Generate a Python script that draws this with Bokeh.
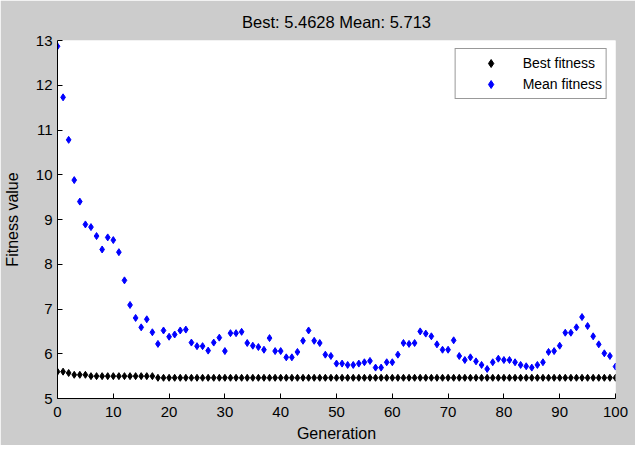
from bokeh.plotting import figure
from bokeh.models import Range1d, FixedTicker, ColumnDataSource
from bokeh.embed import file_html
from bokeh.resources import INLINE

generation = list(range(0, 101))

best_fitness = [
    5.60, 5.60, 5.57, 5.53, 5.53, 5.53, 5.50, 5.50, 5.50, 5.50,
    5.50, 5.50, 5.50, 5.50, 5.50, 5.50, 5.50, 5.50, 5.4628, 5.4628,
    5.4628, 5.4628, 5.4628, 5.4628, 5.4628, 5.4628, 5.4628, 5.4628, 5.4628, 5.4628,
    5.4628, 5.4628, 5.4628, 5.4628, 5.4628, 5.4628, 5.4628, 5.4628, 5.4628, 5.4628,
    5.4628, 5.4628, 5.4628, 5.4628, 5.4628, 5.4628, 5.4628, 5.4628, 5.4628, 5.4628,
    5.4628, 5.4628, 5.4628, 5.4628, 5.4628, 5.4628, 5.4628, 5.4628, 5.4628, 5.4628,
    5.4628, 5.4628, 5.4628, 5.4628, 5.4628, 5.4628, 5.4628, 5.4628, 5.4628, 5.4628,
    5.4628, 5.4628, 5.4628, 5.4628, 5.4628, 5.4628, 5.4628, 5.4628, 5.4628, 5.4628,
    5.4628, 5.4628, 5.4628, 5.4628, 5.4628, 5.4628, 5.4628, 5.4628, 5.4628, 5.4628,
    5.4628, 5.4628, 5.4628, 5.4628, 5.4628, 5.4628, 5.4628, 5.4628, 5.4628, 5.4628,
    5.4628,
]

mean_fitness = [
    12.87, 11.73, 10.78, 9.88, 9.40, 8.89, 8.83, 8.63, 8.33, 8.60,
    8.54, 8.27, 7.64, 7.09, 6.80, 6.59, 6.77, 6.48, 6.22, 6.52,
    6.38, 6.43, 6.52, 6.54, 6.25, 6.17, 6.17, 6.07, 6.25, 6.36,
    6.06, 6.46, 6.46, 6.49, 6.24, 6.18, 6.15, 6.09, 6.35, 6.06,
    6.06, 5.92, 5.92, 6.04, 6.29, 6.52, 6.29, 6.24, 5.98, 5.95,
    5.78, 5.78, 5.75, 5.75, 5.78, 5.81, 5.84, 5.69, 5.69, 5.81,
    5.81, 5.98, 6.24, 6.22, 6.24, 6.50, 6.45, 6.39, 6.21, 6.09,
    6.09, 6.30, 5.95, 5.86, 5.92, 5.83, 5.75, 5.66, 5.81, 5.89,
    5.86, 5.86, 5.81, 5.75, 5.72, 5.69, 5.75, 5.81, 6.04, 6.06,
    6.18, 6.47, 6.47, 6.59, 6.82, 6.62, 6.39, 6.21, 6.01, 5.95,
    5.713,
]

x_ticks = [0, 10, 20, 30, 40, 50, 60, 70, 80, 90, 100]
y_ticks = [5, 6, 7, 8, 9, 10, 11, 12, 13]

title_text = "Best: 5.4628 Mean: 5.713"
FONT = "Liberation Sans"

source = ColumnDataSource(dict(gen=generation, best=best_fitness, mean=mean_fitness))

p = figure(
    width=635, height=445,
    output_backend="svg", toolbar_location=None,
    x_range=Range1d(0, 100), y_range=Range1d(5, 13),
    min_border_left=56, min_border_right=20,
    min_border_top=40, min_border_bottom=47,
    background_fill_color="white", border_fill_color="#cccccc",
)
p.outline_line_color = None
p.grid.visible = False

p.title.text = title_text
p.title.align = "center"
p.title.text_font = FONT
p.title.text_font_size = "16.5px"
p.title.text_font_style = "normal"
p.title.text_color = "black"
p.title.standoff = 19

for ax in (p.xaxis[0], p.yaxis[0]):
    ax.axis_line_color = "black"
    ax.major_tick_line_color = "black"
    ax.major_tick_in = 5
    ax.major_tick_out = 0
    ax.minor_tick_line_color = None
    ax.major_label_text_font = FONT
    ax.major_label_text_font_size = "15px"
    ax.major_label_text_color = "black"
    ax.axis_label_text_font = FONT
    ax.axis_label_text_font_size = "16px"
    ax.axis_label_text_font_style = "normal"
    ax.axis_label_text_color = "black"

p.xaxis.ticker = FixedTicker(ticks=x_ticks)
p.yaxis.ticker = FixedTicker(ticks=y_ticks)
p.xaxis.axis_label = "Generation"
p.yaxis.axis_label = "Fitness value"
p.xaxis.major_label_standoff = 8
p.xaxis.axis_label_standoff = 5
p.yaxis.major_label_standoff = 5
p.yaxis.axis_label_standoff = 12

p.scatter("gen", "best", source=source, marker="diamond", size=7,
          color="black", legend_label="Best fitness")
p.scatter("gen", "mean", source=source, marker="diamond", size=7,
          color="#0000ff", legend_label="Mean fitness")

lg = p.legend[0]
lg.location = "top_right"
lg.margin = 8
lg.padding = 4
lg.spacing = 1
lg.label_height = 20
lg.glyph_height = 20
lg.glyph_width = 62
lg.label_standoff = 1
lg.label_text_font = FONT
lg.label_text_font_size = "14px"
lg.label_text_color = "black"
lg.border_line_color = "#333333"
lg.border_line_width = 1
lg.background_fill_color = "white"
lg.background_fill_alpha = 1.0

open("out.html", "w").write(file_html(p, INLINE))
